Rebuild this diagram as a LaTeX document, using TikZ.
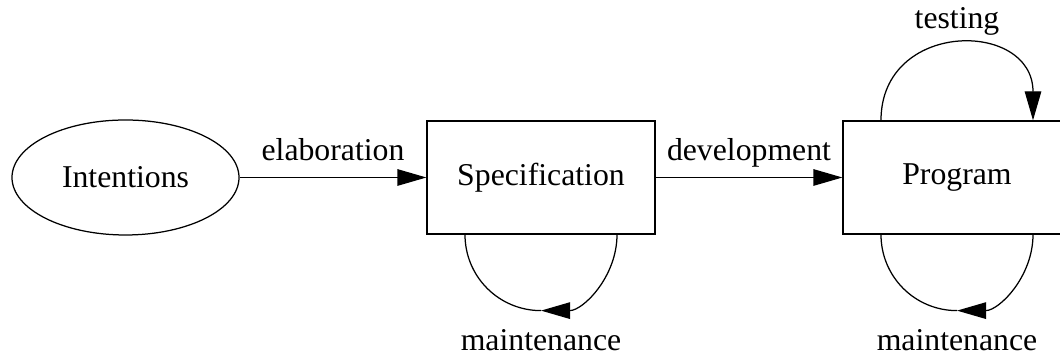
\documentclass[tikz,border=0pt]{standalone}
\usepackage{fontspec}
\setmainfont{Liberation Serif}
\usetikzlibrary{arrows.meta,shapes.geometric,calc}

\begin{document}
\begin{tikzpicture}[x=0.4pt,y=0.4pt,line width=0.5pt,
  txt/.style={font=\fontsize{12.7}{15}\selectfont},
  box/.style={txt,draw,rectangle,minimum width=91.2pt,minimum height=45.2pt,inner sep=0pt},
  oval/.style={txt,draw,ellipse,minimum width=90.8pt,minimum height=46pt,inner sep=0pt},
  lbl/.style={txt,inner sep=0pt,anchor=base},
  arr/.style={-{Triangle[length=11.6pt,width=6.6pt]}}]
\useasboundingbox (0,0) rectangle (1060,358);
\clip (0,0) rectangle (1060,358);

\node[oval] (intent) at (125.5,180.5) {Intentions};
\node[box] (spec) at (541,180.5) {Specification};
\node[box] (prog) at (957,180.5) {Program};

\draw[arr] (intent) -- node[lbl,yshift=6.8pt] (elab) {elaboration} (spec);
\draw[arr] (spec) -- node[lbl,yshift=6.8pt] (dev) {development} (prog);

\coordinate (progTL) at ($(prog.north)+(-76,0)$);
\coordinate (progTR) at ($(prog.north)+(76,0)$);
\draw[arr] (progTL) to[out=90,in=90,looseness=1.7] (progTR);
\node[lbl] (test) at ($(prog.north)+(0,92)$) {testing};

\foreach \n in {spec,prog} {
  \coordinate (\n L) at ($(\n.south)+(-76,0)$);
  \coordinate (\n R) at ($(\n.south)+(76,0)$);
  \coordinate (\n B) at ($(\n.south)+(0,-76)$);
  \draw (\n L) to[out=-90,in=180] (\n B);
  \draw[arr] (\n R) to[out=-90,in=0] (\n B);
  \node[lbl] (\n maint) at ($(\n B)+(0,-40)$) {maintenance};
}
\end{tikzpicture}
\end{document}
